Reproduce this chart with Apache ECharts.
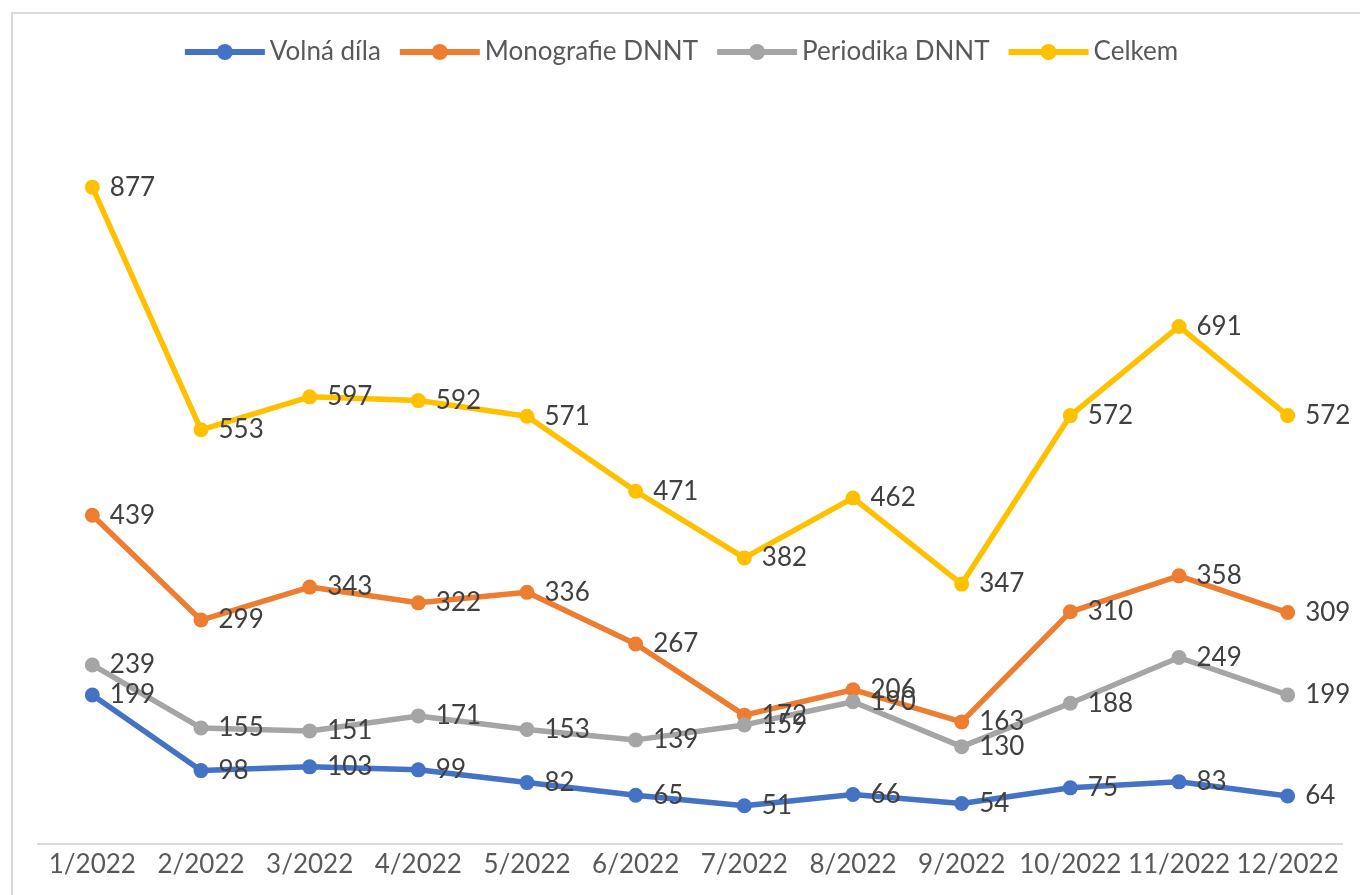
<!DOCTYPE html>
<html>
<head>
<meta charset="utf-8">
<script src="https://cdn.jsdelivr.net/npm/echarts@6/dist/echarts.min.js"></script>
<style>
  html, body { margin: 0; padding: 0; background: #fff; }
  #chart { width: 1360px; height: 895px; }
</style>
</head>
<body>
<div id="chart"></div>
<script>
const months = ['1/2022', '2/2022', '3/2022', '4/2022', '5/2022', '6/2022',
  '7/2022', '8/2022', '9/2022', '10/2022', '11/2022', '12/2022']
const volnaDila = [199, 98, 103, 99, 82, 65, 51, 66, 54, 75, 83, 64]
const monografie = [439, 299, 343, 322, 336, 267, 172, 206, 163, 310, 358, 309]
const periodika = [239, 155, 151, 171, 153, 139, 159, 190, 130, 188, 249, 199]
const celkem = [877, 553, 597, 592, 571, 471, 382, 462, 347, 572, 691, 572]

const font = 'Lato, Carlito, sans-serif'

const makeSeries = (name, data, color) => ({
  name: name,
  type: 'line',
  data: data,
  symbol: 'circle',
  symbolSize: 15,
  lineStyle: { width: 5.5, color: color },
  itemStyle: { color: color },
  label: {
    show: true,
    position: 'right',
    distance: 10,
    color: '#404040',
    fontSize: 26,
    fontFamily: font
  }
})

const chart = echarts.init(document.getElementById('chart'))
chart.setOption({
  animation: false,
  graphic: [{
    type: 'rect',
    shape: { x: 12, y: 13, width: 1400, height: 1000 },
    style: { fill: 'none', stroke: '#d9d9d9', lineWidth: 2 },
    silent: true
  }],
  legend: {
    top: 34,
    left: 'center',
    itemWidth: 80,
    itemHeight: 20,
    itemGap: 16,
    lineStyle: { width: 6 },
    textStyle: { color: '#595959', fontSize: 26, fontFamily: font }
  },
  grid: { left: 38, right: 18, top: 95, bottom: 51 },
  xAxis: {
    type: 'category',
    data: months,
    axisLine: { lineStyle: { color: '#d9d9d9', width: 2 } },
    axisTick: { show: false },
    axisLabel: { color: '#595959', fontSize: 26, fontFamily: font, margin: 8, interval: 0 }
  },
  yAxis: {
    type: 'value',
    min: 0,
    max: 1000,
    show: false,
    splitLine: { show: false }
  },
  series: [
    makeSeries('Volná díla', volnaDila, '#4472c4'),
    makeSeries('Monografie DNNT', monografie, '#ed7d31'),
    makeSeries('Periodika DNNT', periodika, '#a5a5a5'),
    makeSeries('Celkem', celkem, '#ffc000')
  ]
})
</script>
</body>
</html>
